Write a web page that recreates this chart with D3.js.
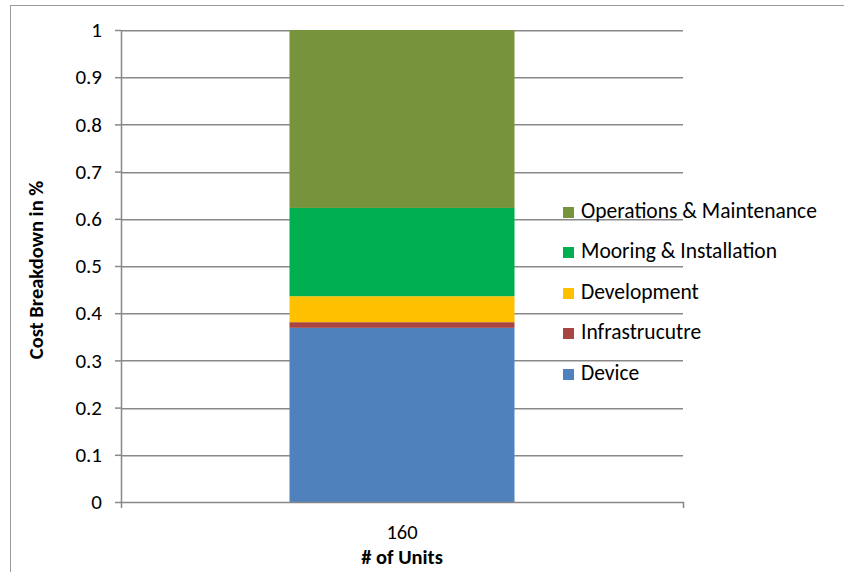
<!DOCTYPE html>
<html><head><meta charset="utf-8">
<script src="https://cdnjs.cloudflare.com/ajax/libs/d3/7.8.5/d3.min.js"></script>
<style>body{margin:0;background:#fff;} svg{display:block;} text{font-family:Carlito,Lato,"Open Sans",sans-serif;}</style>
</head><body>
<svg id="c" width="844" height="572"></svg>
<script>
const categories = ["160"];
const seriesNames = ["Device","Infrastrucutre","Development","Mooring & Installation","Operations & Maintenance"];
const seriesValues = [[0.369],[0.012],[0.055],[0.187],[0.377]];
const seriesColors = ["#4F81BD","#A84543","#FFC000","#00B050","#77933C"];
const yTicks = [0,0.1,0.2,0.3,0.4,0.5,0.6,0.7,0.8,0.9,1];

const svg = d3.select("#c");
const pL = 121, pR = 683, pT = 30, pB = 502;
const FF = "Carlito,Lato,'Open Sans',sans-serif";

svg.append("rect").attr("x",10.5).attr("y",5.5).attr("width",900).attr("height",700)
  .attr("fill","none").attr("stroke","#9a9a9a").attr("stroke-width",1);

const x = d3.scaleBand().domain(categories).range([pL,pR]).paddingInner(0).paddingOuter(0);
const y = d3.scaleLinear().domain([0,1]).range([pB,pT]);

// gridlines (dark line with light shadow beneath)
const gl = svg.append("g");
gl.selectAll("line.s").data(yTicks.filter(d=>d>0)).join("line").attr("class","s")
  .attr("x1",pL).attr("x2",pR).attr("y1",d=>Math.round(y(d))+1.5).attr("y2",d=>Math.round(y(d))+1.5)
  .attr("stroke","#c4c4c4").attr("stroke-width",1);
gl.selectAll("line.m").data(yTicks.filter(d=>d>0)).join("line").attr("class","m")
  .attr("x1",pL).attr("x2",pR).attr("y1",d=>Math.round(y(d))+0.5).attr("y2",d=>Math.round(y(d))+0.5)
  .attr("stroke","#888888").attr("stroke-width",1);

// stacked bars
const rows = categories.map((c,i)=>{const o={cat:c}; seriesNames.forEach((s,j)=>o[s]=seriesValues[j][i]); return o;});
const stack = d3.stack().keys(seriesNames)(rows);
const bw = 225;
svg.append("g").selectAll("g").data(stack).join("g").attr("fill",(d,i)=>seriesColors[i])
  .selectAll("rect").data(d=>d).join("rect")
  .attr("x",d=>x(d.data.cat)+x.bandwidth()/2-bw/2).attr("width",bw)
  .attr("y",d=>y(d[1])).attr("height",d=>y(d[0])-y(d[1]));

// y axis
const ya = svg.append("g").attr("transform",`translate(${pL},0)`)
  .call(d3.axisLeft(y).tickValues(yTicks).tickFormat(d=>String(+d.toFixed(1))).tickSize(6).tickSizeOuter(0));
ya.select(".domain").attr("stroke","#888888").attr("stroke-width",1.5);
ya.selectAll(".tick line").attr("stroke","#888888").attr("stroke-width",1.5);
ya.selectAll(".tick text").attr("font-size",21).attr("fill","#000").attr("x",-19).attr("font-family",FF);

// x axis
const xa = svg.append("g").attr("transform",`translate(0,${pB})`)
  .call(d3.axisBottom(x).tickSize(0).tickSizeOuter(6));
xa.select(".domain").attr("stroke","#888888").attr("stroke-width",1.5);
xa.selectAll(".tick text").attr("font-size",20.5).attr("fill","#000").attr("dy",0).attr("y",37).attr("font-family",FF);

// axis titles
svg.append("text").attr("x",402).attr("y",564).attr("text-anchor","middle")
  .attr("font-size",20.5).attr("font-weight","bold").text("# of Units");
svg.append("text").attr("transform","translate(43,270) rotate(-90)").attr("text-anchor","middle")
  .attr("font-size",20.5).attr("font-weight","bold").text("Cost Breakdown in %");

// legend (reverse order)
const legY = [212,252,293,333,374];
const leg = svg.append("g").selectAll("g").data(seriesNames.slice().reverse()).join("g")
  .attr("transform",(d,i)=>`translate(563,${legY[i]})`);
leg.append("rect").attr("x",0).attr("y",-5).attr("width",11).attr("height",11)
  .attr("fill",d=>seriesColors[seriesNames.indexOf(d)]);
leg.append("text").attr("x",18).attr("y",6).attr("font-size",21.5).attr("fill","#000").text(d=>d);
</script>
</body></html>
